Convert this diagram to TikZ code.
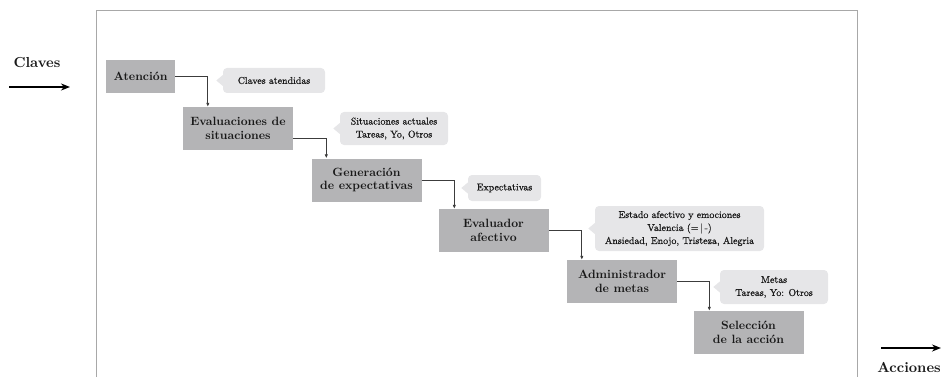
\documentclass[tikz,border=0pt]{standalone}
\usepackage{fontspec}
\usetikzlibrary{arrows.meta}

% fonts: bold roman for stages and labels, slightly heavier roman for notes
\newfontfamily\stagefont{lmroman10-bold.otf}
\newfontfamily\notefont{lmroman10-regular.otf}[FakeBold=0.8]

\definecolor{boxgray}{RGB}{180,180,182}
\definecolor{notegray}{RGB}{230,230,232}
\definecolor{framegray}{RGB}{168,168,168}
\definecolor{linegray}{RGB}{60,60,60}
\definecolor{inkgray}{RGB}{25,25,25}

\tikzset{
  stage/.style={fill=boxgray, inner sep=0pt, align=center, text=inkgray,
    minimum width=110pt, minimum height=43pt,
    font=\stagefont\fontsize{12}{13.5}\selectfont},
  note/.style={fill=notegray, rounded corners=4pt, inner sep=0pt, align=center,
    text=inkgray, font=\notefont\fontsize{9.9}{13}\selectfont},
  conn/.style={draw=linegray, line width=0.8pt,
    -{Latex[length=4pt,width=3.5pt]}},
  bigarrow/.style={draw=black, line width=1.6pt,
    -{Stealth[length=9pt,width=7pt]}},
  sidelabel/.style={text=inkgray, font=\stagefont\fontsize{14.5}{16}\selectfont},
}

% small triangular pointer on the left side of a note
\newcommand{\notetip}[1]{%
  \fill[notegray] ([yshift=5.5pt]#1.west) -- ++(-6.5pt,-5.5pt) -- ++(6.5pt,-5.5pt) -- cycle;}

\begin{document}
\begin{tikzpicture}[x=1pt, y=-1pt]
\useasboundingbox (0,0) rectangle (941,377);

% open frame around the process
\draw[framegray, line width=0.9pt] (96,377) -- (96,10) -- (857,10) -- (857,377);

% input and output
\node[sidelabel] (claves) at (37,63) {Claves};
\coordinate (inL) at (9,87);
\coordinate (inR) at (70,87);
\draw[bigarrow] (inL) -- (inR);

\coordinate (outL) at (881,348);
\coordinate (outR) at (941,348);
\draw[bigarrow] (outL) -- (outR);
\node[sidelabel] (acciones) at (909,367) {Acciones};

% processing stages
\node[stage, minimum width=69pt, minimum height=33pt] (aten) at (140.5,76.5) {Atención};
\node[stage] (evsit) at (238,128.5) {Evaluaciones de\\situaciones};
\node[stage] (gen) at (366.5,180) {Generación\\de expectativas};
\node[stage] (evaf) at (493.5,230.5) {Evaluador\\afectivo};
\node[stage] (adm) at (622,281.5) {Administrador\\de metas};
\node[stage] (sel) at (748.5,332.5) {Selección\\de la acción};

% notes beside each stage
\node[note, minimum width=102pt, minimum height=25pt] (n1) at (274,80.5) {Claves atendidas};
\node[note, minimum width=108pt, minimum height=33pt] (n2) at (394,128.5) {Situaciones actuales\\Tareas, Yo, Otros};
\node[note, minimum width=73pt, minimum height=26pt] (n3) at (504.5,188) {Expectativas};
\node[note, minimum width=169pt, minimum height=45pt] (n4) at (679.5,228.5) {Estado afectivo y emociones\\Valencia (=\,|\,-)\\Ansiedad, Enojo, Tristeza, Alegria};
\node[note, minimum width=108pt, minimum height=34pt] (n5) at (774,287) {Metas\\Tareas, Yo: Otros};
\notetip{n1}
\notetip{n2}
\notetip{n3}
\notetip{n4}
\notetip{n5}

% flow between stages
\draw[conn] (aten.east) -| ([xshift=25pt]evsit.north west);
\draw[conn] ([yshift=-9.5pt]evsit.east) -| ([xshift=15pt]gen.north west);
\draw[conn] (gen.east) -| ([xshift=16pt]evaf.north west);
\draw[conn] (evaf.east) -| ([xshift=15pt]adm.north west);
\draw[conn] (adm.east) -| ([xshift=16pt]sel.north west);
\end{tikzpicture}
\end{document}
